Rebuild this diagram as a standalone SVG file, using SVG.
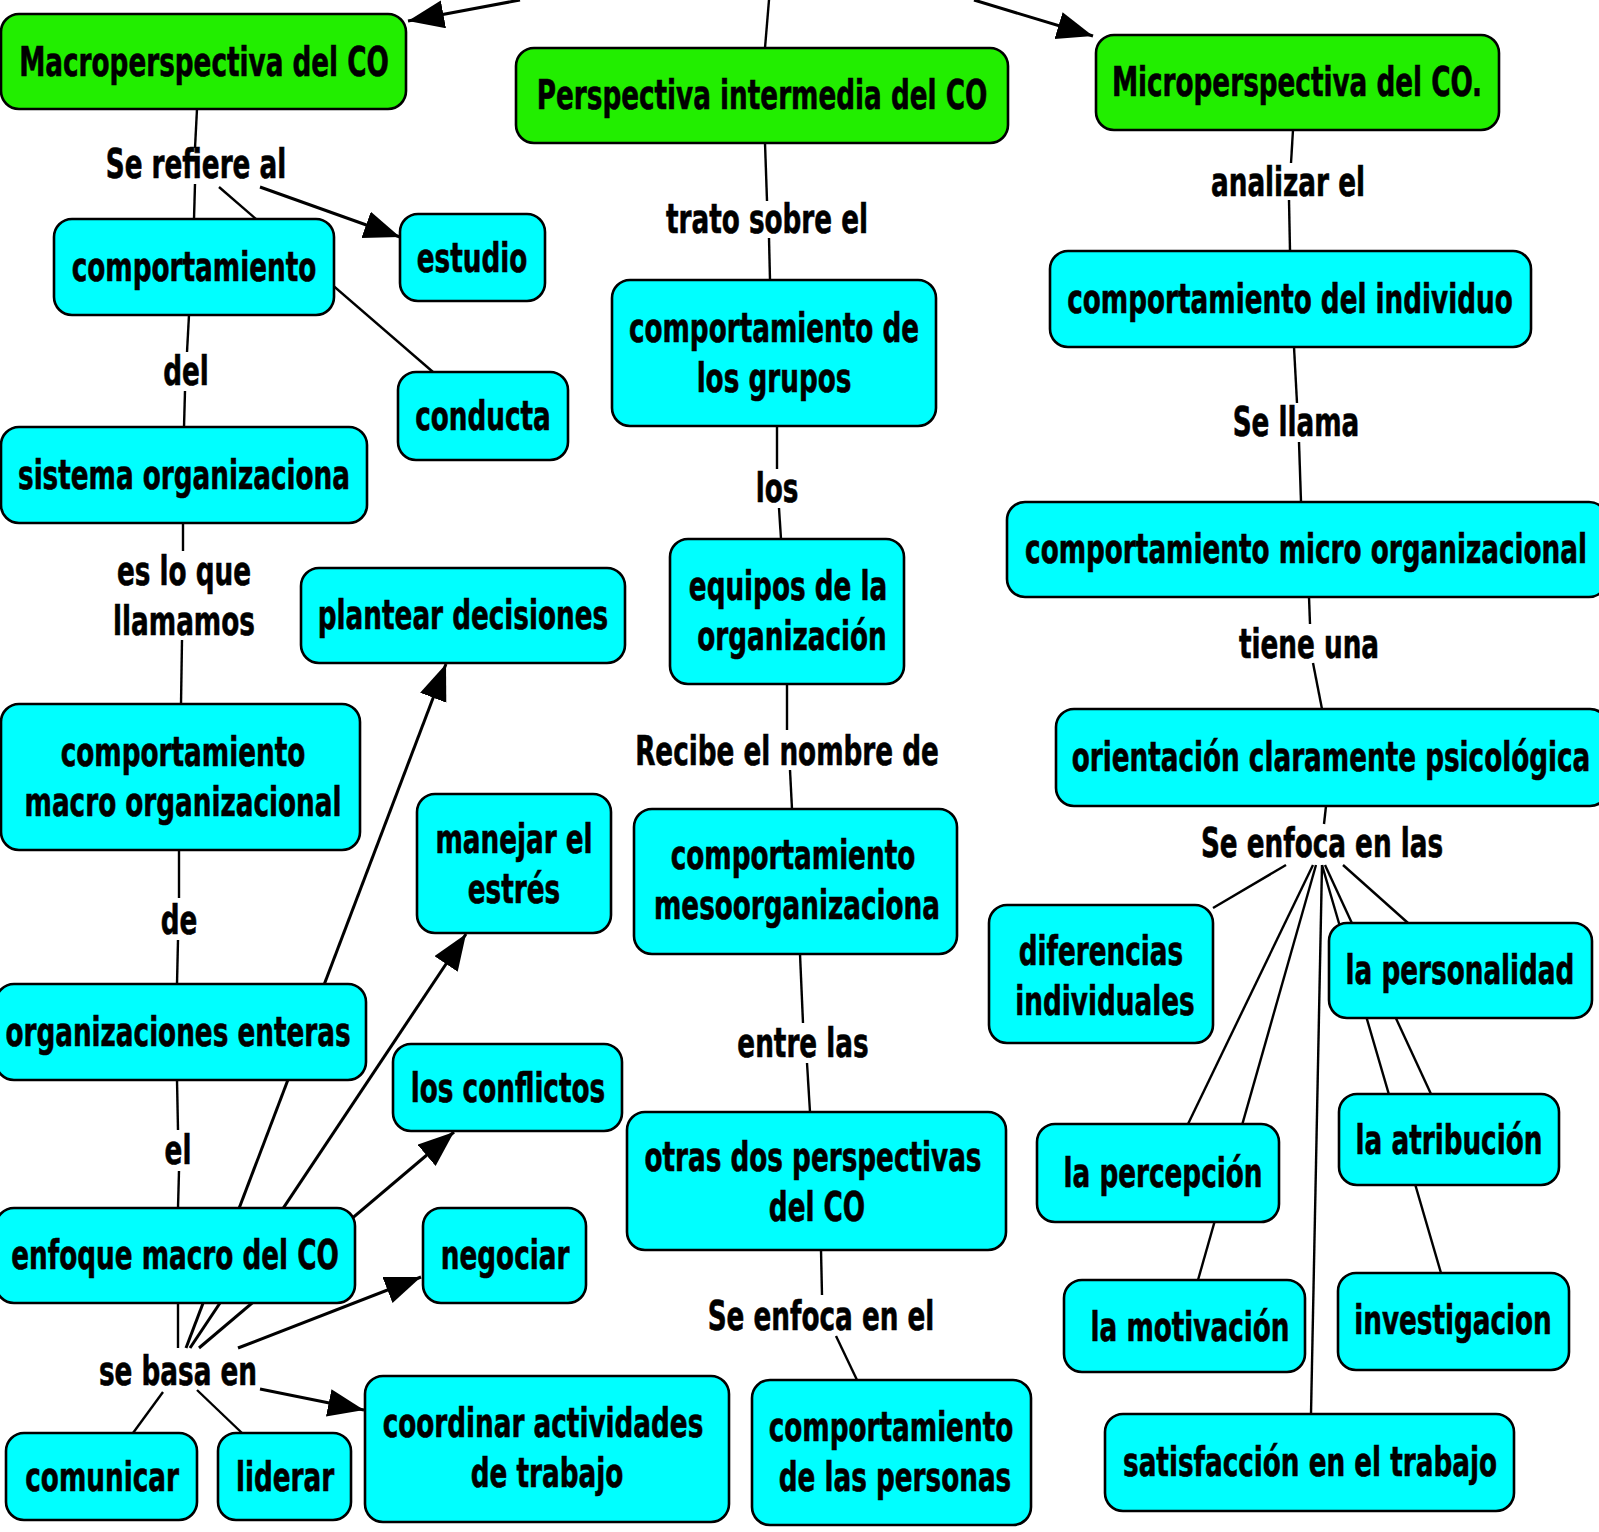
<svg xmlns="http://www.w3.org/2000/svg" width="1599" height="1532" viewBox="0 0 1599 1532">
<style>
.n rect{stroke:#000;stroke-width:2.6}
.g rect{fill:#22ee00}
.c rect{fill:#00ffff}
text{font-family:"DejaVu Sans Condensed","DejaVu Sans",sans-serif;font-stretch:condensed;font-weight:bold;font-size:40px;text-anchor:middle;fill:#000;stroke:#000;stroke-width:0.6;transform-box:fill-box;transform-origin:center;transform:scaleX(0.73)}
#conn line{stroke:#000;stroke-width:2.4;fill:none}
#conn line.a{stroke-width:3;marker-end:url(#ah)}
</style>
<defs>
<marker id="ah" markerUnits="userSpaceOnUse" markerWidth="40" markerHeight="32" refX="36" refY="14" orient="auto">
<path d="M0,0 L36,14 L0,28 z" fill="#000"/>
</marker>
</defs>
<rect width="1599" height="1532" fill="#fff"/>
<g id="conn">
<line class="a" x1="520" y1="0" x2="408" y2="21"/>
<line x1="769" y1="0" x2="765" y2="48"/>
<line class="a" x1="974" y1="0" x2="1093" y2="36"/>
<line x1="197" y1="109" x2="195" y2="148"/>
<line x1="195" y1="184" x2="194" y2="219"/>
<line x1="219" y1="187" x2="433" y2="372"/>
<line class="a" x1="260" y1="187" x2="400" y2="237"/>
<line x1="189" y1="315" x2="187" y2="352"/>
<line x1="185" y1="391" x2="184" y2="427"/>
<line x1="183" y1="523" x2="183" y2="551"/>
<line x1="182" y1="640" x2="181" y2="704"/>
<line x1="179" y1="850" x2="179" y2="898"/>
<line x1="178" y1="940" x2="177" y2="984"/>
<line x1="177" y1="1080" x2="178" y2="1130"/>
<line x1="179" y1="1171" x2="178" y2="1208"/>
<line x1="178" y1="1303" x2="178" y2="1348"/>
<line class="a" x1="186" y1="1348" x2="446" y2="664"/>
<line class="a" x1="190" y1="1348" x2="466" y2="934"/>
<line class="a" x1="199" y1="1348" x2="454" y2="1132"/>
<line class="a" x1="238" y1="1348" x2="421" y2="1277"/>
<line class="a" x1="260" y1="1389" x2="364" y2="1410"/>
<line x1="163" y1="1392" x2="133" y2="1433"/>
<line x1="197" y1="1390" x2="242" y2="1433"/>
<line x1="765" y1="143" x2="767" y2="201"/>
<line x1="769" y1="238" x2="770" y2="280"/>
<line x1="777" y1="426" x2="777" y2="469"/>
<line x1="779" y1="508" x2="781" y2="539"/>
<line x1="787" y1="684" x2="787" y2="730"/>
<line x1="790" y1="770" x2="792" y2="809"/>
<line x1="800" y1="954" x2="803" y2="1023"/>
<line x1="807" y1="1063" x2="810" y2="1112"/>
<line x1="821" y1="1250" x2="822" y2="1295"/>
<line x1="836" y1="1336" x2="857" y2="1380"/>
<line x1="1293" y1="130" x2="1291" y2="163"/>
<line x1="1289" y1="200" x2="1290" y2="251"/>
<line x1="1294" y1="347" x2="1297" y2="403"/>
<line x1="1299" y1="442" x2="1301" y2="502"/>
<line x1="1309" y1="597" x2="1310" y2="624"/>
<line x1="1313" y1="663" x2="1322" y2="709"/>
<line x1="1326" y1="806" x2="1324" y2="824"/>
<line x1="1286" y1="865" x2="1213" y2="908"/>
<line x1="1343" y1="865" x2="1408" y2="923"/>
<line x1="1325" y1="865" x2="1431" y2="1094"/>
<line x1="1322" y1="865" x2="1441" y2="1273"/>
<line x1="1313" y1="865" x2="1188" y2="1124"/>
<line x1="1316" y1="865" x2="1198" y2="1280"/>
<line x1="1322" y1="865" x2="1311" y2="1414"/>
</g>
<g id="labels">
<text x="196" y="178">Se refiere al</text>
<text x="186" y="385">del</text>
<text x="184" y="585">es lo que</text>
<text x="184" y="635">llamamos</text>
<text x="179" y="934">de</text>
<text x="178" y="1164">el</text>
<text x="178" y="1385">se basa en</text>
<text x="767" y="233">trato sobre el</text>
<text x="777" y="502">los</text>
<text x="787" y="765">Recibe el nombre de</text>
<text x="803" y="1057">entre las</text>
<text x="821" y="1330">Se enfoca en el</text>
<text x="1288" y="196">analizar el</text>
<text x="1296" y="436">Se llama</text>
<text x="1309" y="658">tiene una</text>
<text x="1322" y="857">Se enfoca en las</text>
</g>
<g id="macro" class="n g"><rect x="1" y="14" width="405" height="95" rx="18"/><text x="204" y="76">Macroperspectiva del CO</text></g>
<g id="intermedia" class="n g"><rect x="516" y="48" width="492" height="95" rx="18"/><text x="762" y="109">Perspectiva intermedia del CO</text></g>
<g id="micro" class="n g"><rect x="1096" y="35" width="403" height="95" rx="18"/><text x="1297" y="96">Microperspectiva del CO.</text></g>
<g id="comportamiento" class="n c"><rect x="54" y="219" width="280" height="96" rx="18"/><text x="194" y="281">comportamiento</text></g>
<g id="estudio" class="n c"><rect x="400" y="214" width="145" height="87" rx="18"/><text x="472" y="272">estudio</text></g>
<g id="conducta" class="n c"><rect x="398" y="372" width="170" height="88" rx="18"/><text x="483" y="430">conducta</text></g>
<g id="sistema" class="n c"><rect x="1" y="427" width="366" height="96" rx="18"/><text x="184" y="489">sistema organizaciona</text></g>
<g id="plantear" class="n c"><rect x="301" y="568" width="324" height="95" rx="18"/><text x="463" y="629">plantear decisiones</text></g>
<g id="compmacro" class="n c"><rect x="1" y="704" width="359" height="146" rx="18"/><text x="183" y="766">comportamiento</text><text x="183" y="816">macro organizacional</text></g>
<g id="manejar" class="n c"><rect x="417" y="794" width="194" height="139" rx="18"/><text x="514" y="853">manejar el</text><text x="514" y="903">estrés</text></g>
<g id="orgenteras" class="n c"><rect x="-4" y="984" width="370" height="96" rx="18"/><text x="178" y="1046">organizaciones enteras</text></g>
<g id="conflictos" class="n c"><rect x="393" y="1044" width="229" height="87" rx="18"/><text x="508" y="1102">los conflictos</text></g>
<g id="enfoque" class="n c"><rect x="-4" y="1208" width="359" height="95" rx="18"/><text x="175" y="1269">enfoque macro del CO</text></g>
<g id="negociar" class="n c"><rect x="423" y="1208" width="163" height="95" rx="18"/><text x="505" y="1269">negociar</text></g>
<g id="comunicar" class="n c"><rect x="6" y="1433" width="191" height="87" rx="18"/><text x="102" y="1491">comunicar</text></g>
<g id="liderar" class="n c"><rect x="218" y="1433" width="133" height="87" rx="18"/><text x="285" y="1491">liderar</text></g>
<g id="coordinar" class="n c"><rect x="365" y="1376" width="364" height="146" rx="18"/><text x="543" y="1437">coordinar actividades</text><text x="547" y="1487">de trabajo</text></g>
<g id="grupos" class="n c"><rect x="612" y="280" width="324" height="146" rx="18"/><text x="774" y="342">comportamiento de</text><text x="774" y="392">los grupos</text></g>
<g id="equipos" class="n c"><rect x="670" y="539" width="234" height="145" rx="18"/><text x="788" y="600">equipos de la</text><text x="792" y="650">organización</text></g>
<g id="meso" class="n c"><rect x="634" y="809" width="323" height="145" rx="18"/><text x="793" y="869">comportamiento</text><text x="797" y="919">mesoorganizaciona</text></g>
<g id="otras" class="n c"><rect x="627" y="1112" width="379" height="138" rx="18"/><text x="813" y="1171">otras dos perspectivas</text><text x="817" y="1221">del CO</text></g>
<g id="personas" class="n c"><rect x="752" y="1380" width="279" height="145" rx="18"/><text x="891" y="1441">comportamiento</text><text x="895" y="1491">de las personas</text></g>
<g id="individuo" class="n c"><rect x="1050" y="251" width="481" height="96" rx="18"/><text x="1290" y="313">comportamiento del individuo</text></g>
<g id="microorg" class="n c"><rect x="1007" y="502" width="600" height="95" rx="18"/><text x="1306" y="563">comportamiento micro organizacional</text></g>
<g id="orientacion" class="n c"><rect x="1056" y="709" width="552" height="97" rx="18"/><text x="1331" y="771">orientación claramente psicológica</text></g>
<g id="diferencias" class="n c"><rect x="989" y="905" width="224" height="138" rx="18"/><text x="1101" y="965">diferencias</text><text x="1105" y="1015">individuales</text></g>
<g id="personalidad" class="n c"><rect x="1329" y="923" width="263" height="95" rx="18"/><text x="1460" y="984">la personalidad</text></g>
<g id="percepcion" class="n c"><rect x="1037" y="1124" width="242" height="98" rx="18"/><text x="1163" y="1187">la percepción</text></g>
<g id="atribucion" class="n c"><rect x="1339" y="1094" width="220" height="91" rx="18"/><text x="1449" y="1154">la atribución</text></g>
<g id="motivacion" class="n c"><rect x="1064" y="1280" width="241" height="92" rx="18"/><text x="1190" y="1341">la motivación</text></g>
<g id="investigacion" class="n c"><rect x="1338" y="1273" width="231" height="97" rx="18"/><text x="1453" y="1334">investigacion</text></g>
<g id="satisfaccion" class="n c"><rect x="1105" y="1414" width="409" height="97" rx="18"/><text x="1310" y="1476">satisfacción en el trabajo</text></g>
</svg>
